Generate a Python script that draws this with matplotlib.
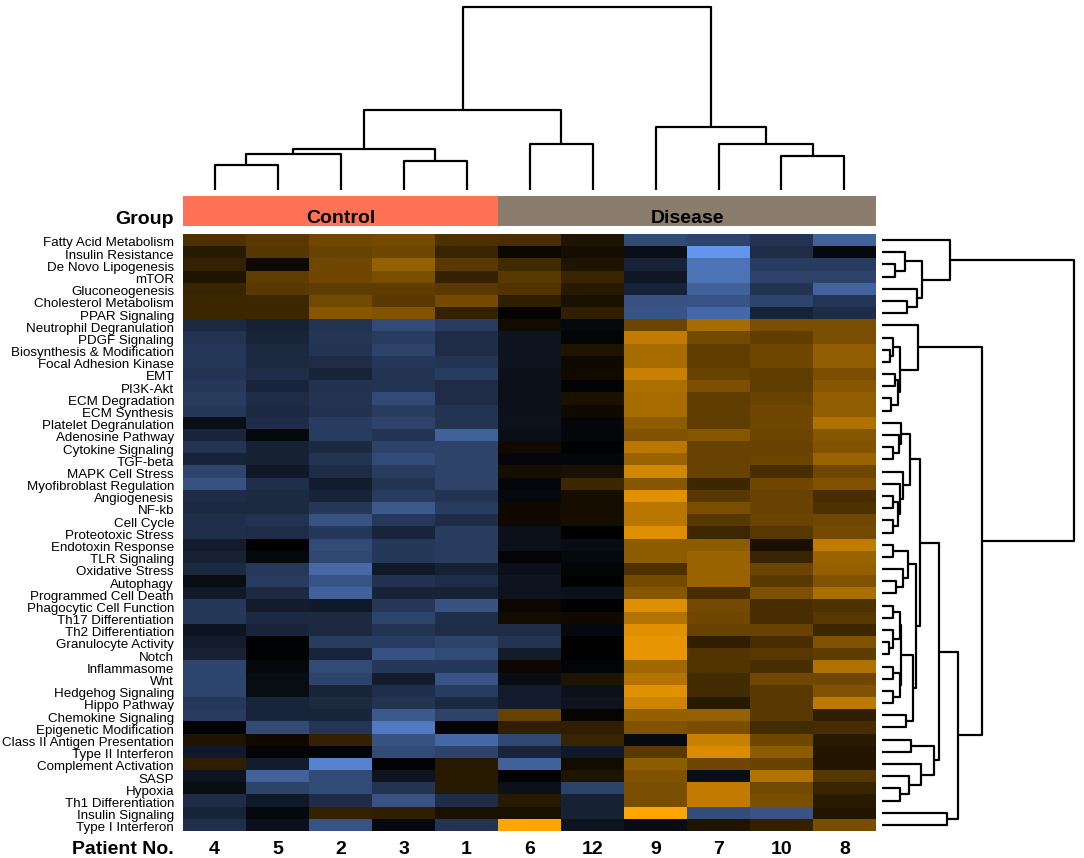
import matplotlib
matplotlib.use('Agg')
import matplotlib.pyplot as plt
from matplotlib.colors import LinearSegmentedColormap
import numpy as np

plt.rcParams['font.family'] = ['Liberation Sans', 'DejaVu Sans']

# column order as shown (after clustering)
patients = ['4', '5', '2', '3', '1', '6', '12', '9', '7', '10', '8']
groups = ['Control'] * 5 + ['Disease'] * 6
group_colors = {'Control': '#FF7256', 'Disease': '#8B7D6B'}

pathways = [
    'Fatty Acid Metabolism', 'Insulin Resistance', 'De Novo Lipogenesis', 'mTOR',
    'Gluconeogenesis', 'Cholesterol Metabolism', 'PPAR Signaling',
    'Neutrophil Degranulation', 'PDGF Signaling', 'Biosynthesis & Modification',
    'Focal Adhesion Kinase', 'EMT', 'PI3K-Akt', 'ECM Degradation', 'ECM Synthesis',
    'Platelet Degranulation', 'Adenosine Pathway', 'Cytokine Signaling', 'TGF-beta',
    'MAPK Cell Stress', 'Myofibroblast Regulation', 'Angiogenesis', 'NF-kb',
    'Cell Cycle', 'Proteotoxic Stress', 'Endotoxin Response', 'TLR Signaling',
    'Oxidative Stress', 'Autophagy', 'Programmed Cell Death',
    'Phagocytic Cell Function', 'Th17 Differentiation', 'Th2 Differentiation',
    'Granulocyte Activity', 'Notch', 'Inflammasome', 'Wnt', 'Hedgehog Signaling',
    'Hippo Pathway', 'Chemokine Signaling', 'Epigenetic Modification',
    'Class II Antigen Presentation', 'Type II Interferon', 'Complement Activation',
    'SASP', 'Hypoxia', 'Th1 Differentiation', 'Insulin Signaling', 'Type I Interferon',
]

# scaled pathway scores, -1 (blue) .. 0 (black) .. 1 (orange)
scores = [
    [0.30, 0.35, 0.43, 0.45, 0.30, 0.28, 0.12, -0.50, -0.45, -0.35, -0.65],
    [0.16, 0.33, 0.40, 0.43, 0.22, 0.04, 0.08, -0.10, -1.00, -0.30, -0.06],
    [0.20, 0.05, 0.43, 0.58, 0.35, 0.25, 0.12, -0.23, -0.77, -0.40, -0.40],
    [0.12, 0.37, 0.43, 0.47, 0.20, 0.35, 0.22, -0.15, -0.77, -0.45, -0.45],
    [0.22, 0.35, 0.37, 0.37, 0.35, 0.32, 0.16, -0.23, -0.65, -0.35, -0.67],
    [0.24, 0.24, 0.44, 0.35, 0.45, 0.18, 0.10, -0.55, -0.57, -0.46, -0.36],
    [0.24, 0.24, 0.53, 0.50, 0.20, 0.02, 0.18, -0.57, -0.70, -0.23, -0.30],
    [-0.28, -0.22, -0.35, -0.50, -0.40, 0.07, -0.06, 0.42, 0.65, 0.47, 0.47],
    [-0.35, -0.25, -0.36, -0.40, -0.30, -0.14, -0.03, 0.75, 0.45, 0.38, 0.47],
    [-0.38, -0.28, -0.35, -0.45, -0.30, -0.14, 0.12, 0.65, 0.37, 0.43, 0.57],
    [-0.38, -0.28, -0.30, -0.37, -0.35, -0.14, 0.06, 0.65, 0.37, 0.43, 0.57],
    [-0.35, -0.30, -0.24, -0.35, -0.40, -0.11, 0.06, 0.78, 0.40, 0.37, 0.48],
    [-0.38, -0.25, -0.34, -0.35, -0.30, -0.11, -0.02, 0.67, 0.49, 0.37, 0.53],
    [-0.40, -0.30, -0.35, -0.50, -0.30, -0.11, 0.10, 0.65, 0.37, 0.40, 0.57],
    [-0.38, -0.28, -0.33, -0.40, -0.35, -0.11, 0.06, 0.65, 0.37, 0.43, 0.57],
    [-0.10, -0.30, -0.40, -0.45, -0.35, -0.12, -0.04, 0.55, 0.37, 0.43, 0.68],
    [-0.25, -0.06, -0.40, -0.35, -0.65, -0.10, -0.04, 0.50, 0.53, 0.42, 0.52],
    [-0.35, -0.22, -0.28, -0.45, -0.45, 0.06, -0.02, 0.72, 0.40, 0.40, 0.50],
    [-0.24, -0.22, -0.35, -0.50, -0.45, -0.04, -0.04, 0.60, 0.40, 0.42, 0.60],
    [-0.46, -0.17, -0.30, -0.40, -0.45, 0.08, 0.10, 0.82, 0.40, 0.28, 0.43],
    [-0.55, -0.32, -0.19, -0.35, -0.45, -0.04, 0.24, 0.53, 0.24, 0.43, 0.50],
    [-0.30, -0.28, -0.24, -0.40, -0.35, -0.06, 0.08, 0.88, 0.34, 0.40, 0.28],
    [-0.28, -0.28, -0.38, -0.60, -0.40, 0.06, 0.08, 0.72, 0.47, 0.40, 0.30],
    [-0.32, -0.34, -0.55, -0.38, -0.30, 0.06, 0.08, 0.72, 0.34, 0.42, 0.43],
    [-0.32, -0.30, -0.38, -0.25, -0.40, -0.11, 0.00, 0.86, 0.24, 0.34, 0.45],
    [-0.19, -0.01, -0.50, -0.38, -0.40, -0.11, -0.08, 0.55, 0.55, 0.10, 0.75],
    [-0.22, -0.06, -0.48, -0.38, -0.40, -0.03, -0.06, 0.55, 0.60, 0.22, 0.60],
    [-0.28, -0.38, -0.70, -0.17, -0.22, -0.11, -0.03, 0.30, 0.60, 0.42, 0.58],
    [-0.08, -0.40, -0.57, -0.34, -0.30, -0.14, -0.02, 0.45, 0.60, 0.35, 0.50],
    [-0.17, -0.28, -0.65, -0.24, -0.22, -0.14, -0.11, 0.53, 0.28, 0.49, 0.67],
    [-0.38, -0.19, -0.17, -0.38, -0.55, 0.04, -0.02, 0.86, 0.45, 0.28, 0.30],
    [-0.38, -0.28, -0.28, -0.46, -0.32, 0.07, 0.06, 0.70, 0.43, 0.28, 0.34],
    [-0.14, -0.25, -0.28, -0.35, -0.30, -0.30, -0.06, 0.88, 0.40, 0.40, 0.24],
    [-0.19, -0.02, -0.40, -0.40, -0.45, -0.35, -0.01, 0.90, 0.18, 0.28, 0.50],
    [-0.22, -0.02, -0.25, -0.55, -0.50, -0.19, -0.01, 0.90, 0.32, 0.34, 0.36],
    [-0.46, -0.06, -0.50, -0.38, -0.38, 0.04, -0.03, 0.63, 0.32, 0.28, 0.68],
    [-0.46, -0.08, -0.45, -0.19, -0.57, -0.08, 0.12, 0.70, 0.26, 0.43, 0.43],
    [-0.46, -0.08, -0.25, -0.32, -0.40, -0.19, -0.11, 0.88, 0.26, 0.35, 0.50],
    [-0.38, -0.25, -0.28, -0.35, -0.28, -0.19, -0.14, 0.80, 0.16, 0.35, 0.74],
    [-0.40, -0.25, -0.25, -0.60, -0.45, 0.40, 0.03, 0.58, 0.58, 0.35, 0.18],
    [-0.03, -0.50, -0.36, -0.82, -0.03, 0.18, 0.18, 0.50, 0.47, 0.26, 0.28],
    [0.12, 0.06, 0.20, -0.55, -0.70, -0.48, 0.22, -0.07, 0.78, 0.43, 0.16],
    [-0.17, -0.03, -0.03, -0.50, -0.45, -0.25, -0.17, 0.35, 0.85, 0.55, 0.14],
    [0.18, -0.19, -0.87, -0.02, 0.16, -0.65, 0.07, 0.55, 0.43, 0.40, 0.14],
    [-0.14, -0.65, -0.50, -0.14, 0.16, -0.02, 0.12, 0.50, -0.10, 0.70, 0.33],
    [-0.08, -0.45, -0.50, -0.35, 0.16, -0.11, -0.45, 0.47, 0.75, 0.44, 0.22],
    [-0.30, -0.17, -0.30, -0.55, -0.30, 0.16, -0.22, 0.47, 0.75, 0.47, 0.16],
    [-0.24, -0.06, 0.20, 0.18, 0.10, 0.10, -0.22, 1.00, -0.52, -0.56, 0.14],
    [-0.32, -0.11, -0.55, -0.06, -0.35, 1.00, -0.14, -0.08, 0.12, 0.20, 0.47],
]

# dendrograms as (height, left, right); ints are leaf positions
col_tree = (183, (79.7, (40.7, (36.3, (25.3, 0, 1), 2), (29.3, 3, 4)), (46, 5, 6)),
            (63, 7, (46, 8, (34.3, 9, 10))))

rows_top = (67.7, 0, (40, (23.3, 1, (12.7, 2, 3)), (35, 4, (25.3, 5, 6))))
rows_a = (36, 7, (18.3, (11, 8, (8.3, 9, 10)), (16, (13.3, 11, 12), (9.3, 13, 14))))
rows_c1 = (27.7, (19.3, 15, (17, 16, (11, 17, 18))),
           (21, 19, (18.3, 20, (16, (11, 21, 22), (11, 23, 24)))))
rows_c2 = (33.7, (26, (11, 25, 26), (21, 27, (13.7, 28, 29))),
           (31, (19.3, (18.3, (11, 30, 31), (11, 32, (7, 33, 34))),
                 (17.7, (11, 35, 36), (11, 37, 38))), (24.3, 39, 40)))
rows_d = (51.7, (29.3, 41, 42), (39.3, 43, (26.7, 44, (17.7, 45, 46))))
rows_b = (76, (56.7, (38.3, rows_c1, rows_c2), rows_d), (65, 47, 48))
row_tree = (192, rows_top, (100, rows_a, rows_b))


def draw_tree(ax, node, side):
    if isinstance(node, int):
        return node, 0.0
    h, left, right = node
    pl, hl = draw_tree(ax, left, side)
    pr, hr = draw_tree(ax, right, side)
    pos = [pl, pl, pr, pr]
    hts = [hl, h, h, hr]
    if side == 'top':
        ax.plot(pos, hts, color='black', lw=1.6, solid_capstyle='butt')
    else:
        ax.plot(hts, pos, color='black', lw=1.6, solid_capstyle='butt')
    return (pl + pr) / 2.0, h


W, H = 1084, 858
fig = plt.figure(figsize=(W / 100, H / 100), dpi=100)


def px_axes(x0, y0, x1, y1):
    return fig.add_axes([x0 / W, 1 - y1 / H, (x1 - x0) / W, (y1 - y0) / H])


hm_x0, hm_x1, hm_y0, hm_y1 = 183, 876, 234, 831
lab_x = -9.0 / (hm_x1 - hm_x0)   # labels end 9px left of the heatmap
row_px = (hm_y1 - hm_y0) / len(pathways)

cmap = LinearSegmentedColormap.from_list('bko', ['#6495ED', 'black', '#FFA500'])
data = np.array(scores)

ax = px_axes(hm_x0, hm_y0, hm_x1, hm_y1)
ax.imshow(data, cmap=cmap, vmin=-1, vmax=1, aspect='auto', interpolation='nearest')
ax.set_xlim(-0.5, len(patients) - 0.5)
ax.set_ylim(len(pathways) - 0.5, -0.5)
ax.set_xticks([])
ax.set_yticks([])
for s in ax.spines.values():
    s.set_visible(False)
ytr = ax.get_yaxis_transform()
for i, name in enumerate(pathways):
    ax.text(lab_x, i + 0.52, name, ha='right', va='baseline', fontsize=9.6,
            transform=ytr)
num_y = len(pathways) - 0.5 + 23.0 / row_px
for j, p in enumerate(patients):
    ax.text(j, num_y, p, ha='center', va='baseline', fontsize=14,
            fontweight='bold', clip_on=False)
ax.text(lab_x, num_y, 'Patient No.', ha='right', va='baseline',
        fontsize=14, fontweight='bold', transform=ytr, clip_on=False)

# group bar
axg = px_axes(hm_x0, 196, hm_x1, 226)
axg.bar(range(len(patients)), 1, width=1.0, color=[group_colors[g] for g in groups])
axg.set_xlim(-0.5, len(patients) - 0.5)
axg.set_ylim(0, 1)
axg.axis('off')
for g in group_colors:
    idx = [i for i, gg in enumerate(groups) if gg == g]
    axg.text(np.mean(idx), 0.1, g, ha='center', va='baseline', fontsize=14,
             fontweight='bold')
axg.text(lab_x, 0.06, 'Group', ha='right', va='baseline', fontsize=14,
         fontweight='bold', transform=axg.get_yaxis_transform())

# column dendrogram
axt = px_axes(hm_x0, 0, hm_x1, 190)
draw_tree(axt, col_tree, 'top')
axt.set_xlim(-0.5, len(patients) - 0.5)
axt.set_ylim(0, 190)
axt.axis('off')

# row dendrogram
axr = px_axes(882, hm_y0, 1084, hm_y1)
draw_tree(axr, row_tree, 'right')
axr.set_xlim(0, 202)
axr.set_ylim(len(pathways) - 0.5, -0.5)
axr.axis('off')

fig.savefig('out.png', dpi=100)
